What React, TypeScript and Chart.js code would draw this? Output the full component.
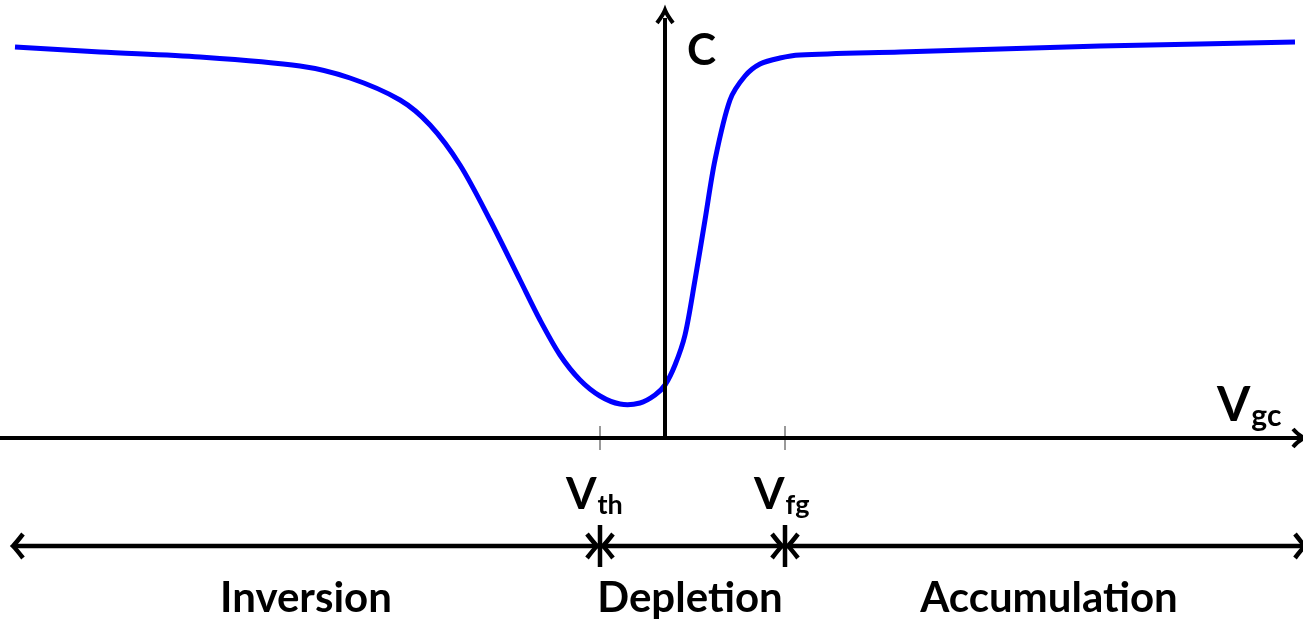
import React, { useEffect, useRef } from "react";
import { Chart, registerables } from "chart.js";

Chart.register(...registerables);

// Gate voltage (arbitrary units, 0 at the C axis) and capacitance (arbitrary units)
const vgc = [-6.5, -5.65, -4.65, -3.65, -3.15, -2.65, -2.35, -2.05, -1.75, -1.45, -1.25, -1.05, -0.85, -0.65, -0.45, -0.25, -0.1, 0.0, 0.1, 0.2, 0.3, 0.4, 0.5, 0.65, 0.8, 0.95, 1.15, 1.35, 2.35, 3.35, 4.35, 5.35, 6.3];
const cap = [3.91, 3.86, 3.81, 3.72, 3.6, 3.38, 3.13, 2.73, 2.18, 1.58, 1.18, 0.83, 0.58, 0.42, 0.34, 0.35, 0.43, 0.53, 0.73, 1.03, 1.58, 2.18, 2.78, 3.38, 3.62, 3.74, 3.8, 3.83, 3.86, 3.89, 3.92, 3.94, 3.96];

const VTH = -0.65;
const VFG = 1.2;
const regionLabels = ["Inversion", "Depletion", "Accumulation"];
const regionCenters = [-3.59, 0.25, 3.84];

const FONT = "Lato, 'Open Sans', sans-serif";

const overlay = {
  id: "overlay",
  afterDatasetsDraw(chart: any) {
    const ctx = chart.ctx as CanvasRenderingContext2D;
    const xs = chart.scales.x;
    const ys = chart.scales.y;
    const px = (v: number) => xs.getPixelForValue(v);
    const py = (c: number) => ys.getPixelForValue(c);
    const x0 = px(0);
    const y0 = py(0);
    ctx.save();
    ctx.lineCap = "butt";
    // tick marks
    ctx.strokeStyle = "#999";
    ctx.lineWidth = 2;
    for (const v of [VTH, VFG]) {
      ctx.beginPath();
      ctx.moveTo(px(v), y0 - 12);
      ctx.lineTo(px(v), y0 + 12);
      ctx.stroke();
    }
    ctx.strokeStyle = "#000";
    ctx.fillStyle = "#000";
    ctx.lineWidth = 4;
    // x axis
    ctx.beginPath();
    ctx.moveTo(0, y0);
    ctx.lineTo(chart.width, y0);
    ctx.stroke();
    // right arrowhead (cut at edge)
    ctx.lineWidth = 4;
    ctx.beginPath();
    ctx.moveTo(chart.width - 10, y0 - 9);
    ctx.quadraticCurveTo(chart.width - 4, y0 - 2, chart.width + 2, y0);
    ctx.quadraticCurveTo(chart.width - 4, y0 + 2, chart.width - 10, y0 + 9);
    ctx.stroke();
    // y axis
    ctx.lineWidth = 4;
    ctx.beginPath();
    ctx.moveTo(x0, y0);
    ctx.lineTo(x0, py(4.2));
    ctx.stroke();
    const yt = py(4.28);
    ctx.lineWidth = 4;
    ctx.beginPath();
    ctx.moveTo(x0 - 8, yt + 13);
    ctx.quadraticCurveTo(x0 - 2, yt + 5, x0, yt);
    ctx.quadraticCurveTo(x0 + 2, yt + 5, x0 + 8, yt + 13);
    ctx.stroke();

    // regions line
    const yr = py(-1.08);
    ctx.lineWidth = 4.5;
    ctx.beginPath();
    ctx.moveTo(px(-6.52), yr);
    ctx.lineTo(chart.width, yr);
    ctx.stroke();
    const chevron = (xTip: number, dir: number) => {
      // dir = -1 : points left, +1 : points right
      ctx.lineWidth = 4.5;
      ctx.beginPath();
      ctx.moveTo(xTip - dir * 10, yr - 12);
      ctx.quadraticCurveTo(xTip - dir * 3, yr - 3, xTip, yr);
      ctx.quadraticCurveTo(xTip - dir * 3, yr + 3, xTip - dir * 10, yr + 12);
      ctx.stroke();
    };
    chevron(px(-6.52), -1);
    chevron(chart.width + 2, 1);
    for (const v of [VTH, VFG]) {
      const x = px(v);
      ctx.lineWidth = 4.5;
      ctx.beginPath();
      ctx.moveTo(x, yr - 21);
      ctx.lineTo(x, yr + 21);
      ctx.stroke();
      chevron(x - 3, 1);
      chevron(x + 3, -1);
    }

    // labels
    ctx.textBaseline = "alphabetic";
    ctx.textAlign = "left";
    const sub = (main: string, s: string, x: number, y: number, big: number, small: number) => {
      ctx.font = `bold ${big}px ${FONT}`;
      ctx.fillText(main, x, y);
      const w = ctx.measureText(main).width;
      ctx.font = `bold ${small}px ${FONT}`;
      ctx.fillText(s, x + w + 1, y + 5);
    };
    ctx.font = `bold 44px ${FONT}`;
    ctx.fillText("C", x0 + 22, py(3.73));
    sub("V", "gc", px(5.52), py(0.17), 48, 30);
    sub("V", "th", px(VTH) - 34, py(-0.71), 44, 27);
    sub("V", "fg", px(VFG) - 31, py(-0.71), 44, 27);
    ctx.textAlign = "center";
    ctx.font = `bold 42px ${FONT}`;
    regionLabels.forEach((t, i) => {
      ctx.fillText(t, px(regionCenters[i]), py(-1.74));
    });
    ctx.restore();
  },
};

export default function App() {
  const ref = useRef<HTMLCanvasElement>(null);
  useEffect(() => {
    const chart = new Chart(ref.current!, {
      type: "line",
      data: {
        datasets: [
          {
            data: vgc.map((v, i) => ({ x: v, y: cap[i] })),
            borderColor: "#0000ff",
            borderWidth: 5,
            pointRadius: 0,
            tension: 0.3,
            fill: false,
          },
        ],
      },
      options: {
        animation: false,
        responsive: false,
        layout: { padding: 0 },
        plugins: { legend: { display: false }, tooltip: { enabled: false } },
        scales: {
          x: { type: "linear", min: -6.65, max: 6.38, display: false },
          y: { type: "linear", min: -1.83, max: 4.38, display: false },
        },
      },
      plugins: [overlay],
    });
    return () => chart.destroy();
  }, []);
  return (
    <div style={{ position: "fixed", left: 0, top: 0, width: 1303, height: 621, background: "#fff" }}>
      <canvas ref={ref} width={1303} height={621} style={{ display: "block" }} />
    </div>
  );
}
